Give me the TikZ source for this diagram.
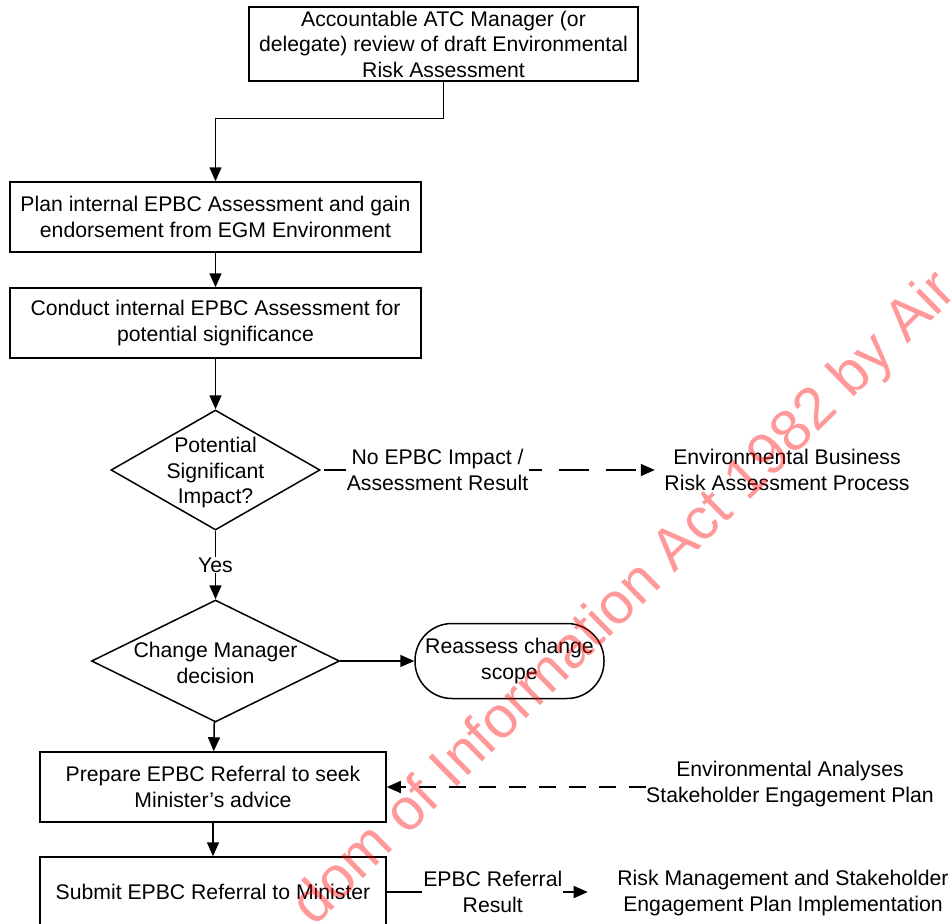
\documentclass[tikz,border=0pt]{standalone}
\usepackage{fontspec}
\setmainfont{Liberation Sans}
\usetikzlibrary{arrows.meta,shapes.geometric}

\tikzset{
  every node/.style={font=\fontsize{21.2}{25.5}\selectfont, align=center},
  stepbox/.style={draw, line width=1.5pt, minimum width=411pt, minimum height=70pt, inner sep=0pt},
  decision/.style={draw, diamond, line width=1.5pt, inner sep=0pt},
  terminal/.style={draw, rounded corners=37pt, line width=1.5pt, minimum width=189pt, minimum height=75pt, inner sep=0pt},
  outside/.style={inner sep=0pt},
  flow/.style={line width=1.5pt, -{Triangle[length=14pt,width=12pt]}},
  flowlabel/.style={fill=white, inner sep=1pt},
  watermark/.style={font=\fontsize{58.7}{62}\selectfont, text=red, text opacity=0.4}
}

\begin{document}
\begin{tikzpicture}[x=1pt, y=-1pt]
\useasboundingbox (0,0) rectangle (952,923);
\clip (0,0) rectangle (952,923);

% main column
\node[stepbox, minimum width=389pt, minimum height=74pt] (review) at (443.5,44) {Accountable ATC Manager (or\\delegate) review of draft Environmental\\Risk Assessment};
\node[stepbox] (plan) at (215.5,217) {Plan internal EPBC Assessment and gain\\endorsement from EGM Environment};
\node[stepbox] (conduct) at (215.5,323) {Conduct internal EPBC Assessment for\\potential significance};
\node[decision, minimum width=209pt, minimum height=120pt, label={[yshift=-3pt]center:Potential\\Significant\\Impact?}] (impact) at (215.5,470) {};
\node[decision, minimum width=248pt, minimum height=122pt, label={[yshift=-2pt]center:Change Manager\\decision}] (decision) at (215.5,661) {};
\node[terminal] (reassess) at (509.5,661) {Reassess change\\scope};
\node[stepbox, minimum width=346pt] (prepare) at (213,787) {Prepare EPBC Referral to seek\\Minister’s advice};
\node[stepbox, minimum width=346pt] (submit) at (213,892) {Submit EPBC Referral to Minister};

% outside processes
\node[outside] (ebrap) at (787,470) {Environmental Business\\Risk Assessment Process};
\node[outside] (analyses) at (790,784) {Environmental Analyses\\Stakeholder Engagement Plan};
\node[outside] (riskplan) at (783,893) {Risk Management and Stakeholder\\Engagement Plan Implementation};

\draw[flow] (review.south) -- ++(0,37) -| (plan.north);
\draw[flow] (plan) -- (conduct);
\draw[flow] (conduct) -- (impact);
\draw[flow] (impact) -- node[flowlabel] {Yes} (decision);
\draw[flow] (decision.east) -- (reassess.west);
\draw[flow] (decision) -- (prepare);
\draw[flow] (prepare) -- (submit);

\draw[flow, dash pattern=on 30pt off 17pt, dash phase=44pt, shorten >=9.5pt] (impact.east) -- node[flowlabel, pos=0.34] {No EPBC Impact /\\Assessment Result} (ebrap.west);
\draw[flow, dash pattern=on 17pt off 13pt] (analyses.west |- prepare.east) -- (prepare.east);
\draw[flow, shorten >=29.5pt] (submit.east) -- node[flowlabel, pos=0.46] {EPBC Referral\\Result} (riskplan.west |- submit.east);

% stamp
\node[watermark, rotate=44.5] (stamp) at (626,600) {dom of Information Act 1982 by Air};
\end{tikzpicture}
\end{document}
